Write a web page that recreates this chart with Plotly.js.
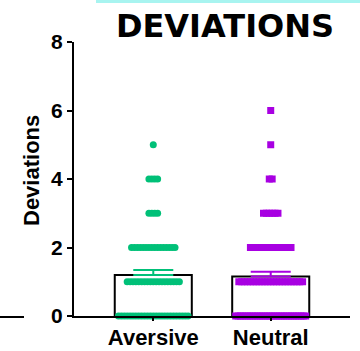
<!DOCTYPE html>
<html>
<head>
<meta charset="utf-8">
<script src="https://cdn.plot.ly/plotly-3.0.1.min.js"></script>
<style>html,body{margin:0;padding:0;background:#fff}#chart{width:360px;height:351px}</style>
</head>
<body>
<div id="chart"></div>
<script>
// ---- data ----
const categories = ["Aversive", "Neutral"];
const meanValues = [1.2, 1.15];
const semValues = [0.14, 0.14];
const levels = [0, 1, 2, 3, 4, 5, 6];
const aversiveCounts = [25, 19, 16, 4, 4, 1, 0];
const neutralCounts = [30, 23, 15, 6, 2, 1, 1];
const yTicks = [0, 2, 4, 6, 8];

// ---- styling ----
const green = "#00C078";
const purple = "#A800E2";
const xRange = [-0.675, 1.675];
const margin = {l: 74, r: 10, t: 42, b: 35};
const plotW = 360 - margin.l - margin.r;
const pxPerUnit = plotW / (xRange[1] - xRange[0]);
const barWidth = 0.656;
const markerSize = 7;
const dotSpacingPx = 2.9;
const maxSpreadPx = barWidth * pxPerUnit - markerSize;

function swarm(center, counts) {
  const xs = [], ys = [];
  counts.forEach((n, i) => {
    if (n <= 0) return;
    let s = dotSpacingPx;
    if ((n - 1) * s > maxSpreadPx) s = maxSpreadPx / (n - 1);
    for (let k = 0; k < n; k++) {
      const offPx = (k - (n - 1) / 2) * s;
      xs.push(center + offPx / pxPerUnit);
      ys.push(levels[i]);
    }
  });
  return {xs, ys};
}

const a = swarm(0, aversiveCounts);
const n = swarm(1, neutralCounts);

const traces = [
  {
    type: "bar", x: [0], y: [meanValues[0]], width: barWidth,
    marker: {color: "#ffffff", line: {color: "#000", width: 2}},
    error_y: {type: "data", array: [semValues[0]], arrayminus: [0], symmetric: false,
      color: green, thickness: 2, width: 20},
    hoverinfo: "skip", showlegend: false
  },
  {
    type: "bar", x: [1], y: [meanValues[1]], width: barWidth,
    marker: {color: "#ffffff", line: {color: "#000", width: 2}},
    error_y: {type: "data", array: [semValues[1]], arrayminus: [0], symmetric: false,
      color: purple, thickness: 2, width: 20},
    hoverinfo: "skip", showlegend: false
  },
  {
    type: "scatter", mode: "markers", x: a.xs, y: a.ys, cliponaxis: false,
    marker: {color: green, size: markerSize, symbol: "circle", line: {width: 0}},
    showlegend: false
  },
  {
    type: "scatter", mode: "markers", x: n.xs, y: n.ys, cliponaxis: false,
    marker: {color: purple, size: markerSize, symbol: "square", line: {width: 0}},
    showlegend: false
  }
];

const pxX = p => (p - margin.l) / plotW;
const pxY = p => (316 - p) / 274;

const layout = {
  width: 360, height: 351, margin: margin,
  paper_bgcolor: "#fff", plot_bgcolor: "#fff",
  barmode: "overlay",
  title: {
    text: "DEVIATIONS", x: 225 / 360, xanchor: "center", xref: "container",
    y: 1 - 26 / 351, yanchor: "middle", yref: "container",
    font: {family: "DejaVu Sans", size: 32, weight: "bold", color: "#000"}
  },
  xaxis: {
    range: xRange, tickvals: [0, 1], ticktext: categories,
    showline: true, linecolor: "#000", linewidth: 2,
    ticks: "outside", ticklen: 3, tickwidth: 2, tickcolor: "#000",
    ticklabelstandoff: -2,
    showgrid: false, zeroline: false,
    tickfont: {family: "Liberation Sans", size: 22, weight: "bold", color: "#000"}
  },
  yaxis: {
    range: [0, 8], tickvals: yTicks,
    showline: true, linecolor: "#000", linewidth: 2,
    ticks: "outside", ticklen: 5, tickwidth: 2, tickcolor: "#000",
    showgrid: false, zeroline: false,
    tickfont: {family: "Liberation Sans", size: 21, weight: "bold", color: "#000"}
  },
  annotations: [{
    text: "Deviations", textangle: -90, showarrow: false,
    xref: "paper", yref: "paper", x: pxX(31), y: pxY(171),
    xanchor: "center", yanchor: "middle",
    font: {family: "Liberation Sans", size: 22, weight: "bold", color: "#000"}
  }],
  shapes: [
    {type: "rect", xref: "paper", yref: "paper", x0: pxX(96), x1: pxX(362), y0: pxY(3), y1: pxY(-1),
      fillcolor: "#A8F4F0", line: {width: 0}},
    {type: "line", xref: "paper", yref: "paper", x0: pxX(0), x1: pxX(24), y0: pxY(317), y1: pxY(317),
      line: {color: "#000", width: 2}}
  ]
};

Plotly.newPlot("chart", traces, layout, {displayModeBar: false, staticPlot: true});
</script>
</body>
</html>
